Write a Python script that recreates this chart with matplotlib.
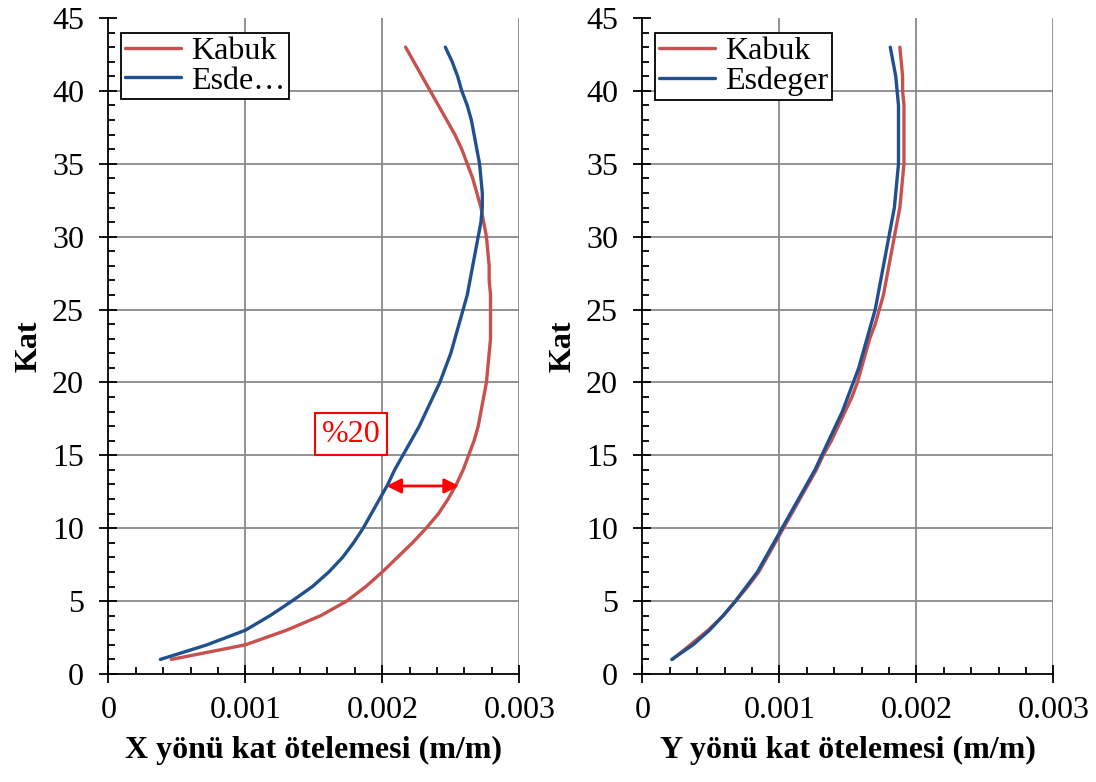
import matplotlib
matplotlib.use("Agg")
import matplotlib.pyplot as plt
from matplotlib.ticker import MultipleLocator, FixedLocator, FixedFormatter

plt.rcParams['font.family'] = ['Liberation Serif', 'DejaVu Serif']

# ---------------- data ----------------
kat = list(range(1, 44))

x_kabuk = [0.00046, 0.00100, 0.00130, 0.00155, 0.00174, 0.00188, 0.00200, 0.00211,
           0.00222, 0.00232, 0.00241, 0.00248, 0.00254, 0.00259, 0.00263, 0.00267,
           0.00270, 0.00272, 0.00274, 0.00276, 0.00277, 0.00278, 0.00279, 0.00279,
           0.00279, 0.00279, 0.00278, 0.00278, 0.00277, 0.00276, 0.00274, 0.00272,
           0.00269, 0.00266, 0.00262, 0.00258, 0.00253, 0.00247, 0.00241, 0.00235,
           0.00229, 0.00223, 0.00217]

x_esdeger = [0.00038, 0.00072, 0.00100, 0.00118, 0.00134, 0.00149, 0.00161, 0.00171,
             0.00179, 0.00186, 0.00192, 0.00198, 0.00204, 0.00209, 0.00215, 0.00221,
             0.00227, 0.00232, 0.00237, 0.00242, 0.00246, 0.00250, 0.00253, 0.00256,
             0.00259, 0.00262, 0.00264, 0.00266, 0.00268, 0.00270, 0.00272, 0.00273,
             0.00273, 0.00272, 0.00271, 0.00269, 0.00267, 0.00265, 0.00262, 0.00258,
             0.00255, 0.00251, 0.00246]

y_kabuk = [0.00022, 0.00035, 0.00048, 0.00059, 0.00068, 0.00077, 0.00085, 0.00091,
           0.00097, 0.00103, 0.00109, 0.00115, 0.00121, 0.00127, 0.00132, 0.00138,
           0.00143, 0.00148, 0.00153, 0.00157, 0.00160, 0.00163, 0.00166, 0.00170,
           0.00173, 0.00176, 0.00178, 0.00180, 0.00182, 0.00184, 0.00186, 0.00188,
           0.00189, 0.00190, 0.00191, 0.00191, 0.00191, 0.00191, 0.00191, 0.00190,
           0.00190, 0.00189, 0.00188]

y_esdeger = [0.000215, 0.00037, 0.00049, 0.00059, 0.00068, 0.00076, 0.00084, 0.00090,
             0.00096, 0.00102, 0.00108, 0.00114, 0.00120, 0.00126, 0.00131, 0.00136,
             0.00141, 0.00146, 0.00150, 0.00154, 0.00158, 0.00161, 0.00164, 0.00167,
             0.00170, 0.00172, 0.00174, 0.00176, 0.00178, 0.00180, 0.00182, 0.00184,
             0.00185, 0.00186, 0.00187, 0.00187, 0.00187, 0.00187, 0.00187, 0.00186,
             0.00185, 0.00183, 0.00181]

x_ticks = [0, 0.001, 0.002, 0.003]
x_tick_labels = ['0', '0.001', '0.002', '0.003']
y_ticks = [0, 5, 10, 15, 20, 25, 30, 35, 40, 45]

left_legend = ['Kabuk', 'Esde…']
right_legend = ['Kabuk', 'Esdeger']
x_labels = ['X yönü kat ötelemesi (m/m)', 'Y yönü kat ötelemesi (m/m)']
y_label = 'Kat'

note_text = '%20'
note_pos = (0.00177, 16.45)
arrow_y = 12.9
arrow_x = (0.00203, 0.00256)

RED = '#C8504F'
BLUE = '#20508E'
GRID = '#8a8a8a'
FS = 23

fig = plt.figure(figsize=(10.96, 7.82), dpi=100)
ax1 = fig.add_axes([108.3 / 1096, 1 - 674 / 782, 411 / 1096, 656 / 782])
ax2 = fig.add_axes([642.3 / 1096, 1 - 674 / 782, 411 / 1096, 656 / 782])

panels = [
    (ax1, x_kabuk, x_esdeger, left_legend, x_labels[0]),
    (ax2, y_kabuk, y_esdeger, right_legend, x_labels[1]),
]

for ax, kab, esd, leg, xl in panels:
    ax.set_xlim(0, 0.003)
    ax.set_ylim(0, 45)
    for yv in y_ticks[1:-1]:
        ax.axhline(yv, color=GRID, lw=1.3, zorder=0)
    for xv in x_ticks[1:]:
        ax.axvline(xv, color=GRID, lw=1.3, zorder=0)
    l1, = ax.plot(kab, kat, color=RED, lw=2.4, label=leg[0], zorder=3,
                  solid_joinstyle='round', solid_capstyle='round')
    l2, = ax.plot(esd, kat, color=BLUE, lw=2.4, label=leg[1], zorder=3,
                  solid_joinstyle='round', solid_capstyle='round')

    for s in ['top', 'right']:
        ax.spines[s].set_visible(False)
    for s in ['left', 'bottom']:
        ax.spines[s].set_linewidth(1.3)
        ax.spines[s].set_color('black')

    ax.xaxis.set_major_locator(FixedLocator(x_ticks))
    ax.xaxis.set_major_formatter(FixedFormatter(x_tick_labels))
    ax.xaxis.set_minor_locator(MultipleLocator(0.0002))
    ax.yaxis.set_major_locator(FixedLocator(y_ticks))
    ax.yaxis.set_minor_locator(MultipleLocator(1))

    ax.tick_params(axis='both', which='major', direction='inout', length=13,
                   width=1.3, labelsize=FS, colors='black')
    ax.tick_params(axis='x', which='major', pad=9)
    ax.tick_params(axis='y', which='major', pad=11)
    ax.tick_params(axis='both', which='minor', direction='in', length=5, width=1.3)

    ax.set_xlabel(xl, fontsize=FS, fontweight='bold', labelpad=8)
    ax.set_ylabel(y_label, fontsize=FS, fontweight='bold', labelpad=6)

    lg = ax.legend(handles=[l1, l2], loc='upper left', bbox_to_anchor=(0.032, 0.977),
                   borderaxespad=0, fontsize=FS, frameon=True, fancybox=False,
                   edgecolor='black', framealpha=1, handlelength=1.75,
                   handletextpad=0.3, labelspacing=0.0, borderpad=0.12)
    lg.get_frame().set_linewidth(1.3)
    lg.set_zorder(5)

ax1.text(note_pos[0], note_pos[1], note_text, color='red', fontsize=FS,
         ha='center', va='center', zorder=6,
         bbox=dict(boxstyle='square,pad=0.2', facecolor='white', edgecolor='red', lw=1.5))
ax1.annotate('', xy=(arrow_x[1], arrow_y), xytext=(arrow_x[0], arrow_y),
             arrowprops=dict(arrowstyle='<|-|>', color='red', lw=2,
                             mutation_scale=22, shrinkA=0, shrinkB=0), zorder=6)

fig.savefig('out.png', dpi=100)
